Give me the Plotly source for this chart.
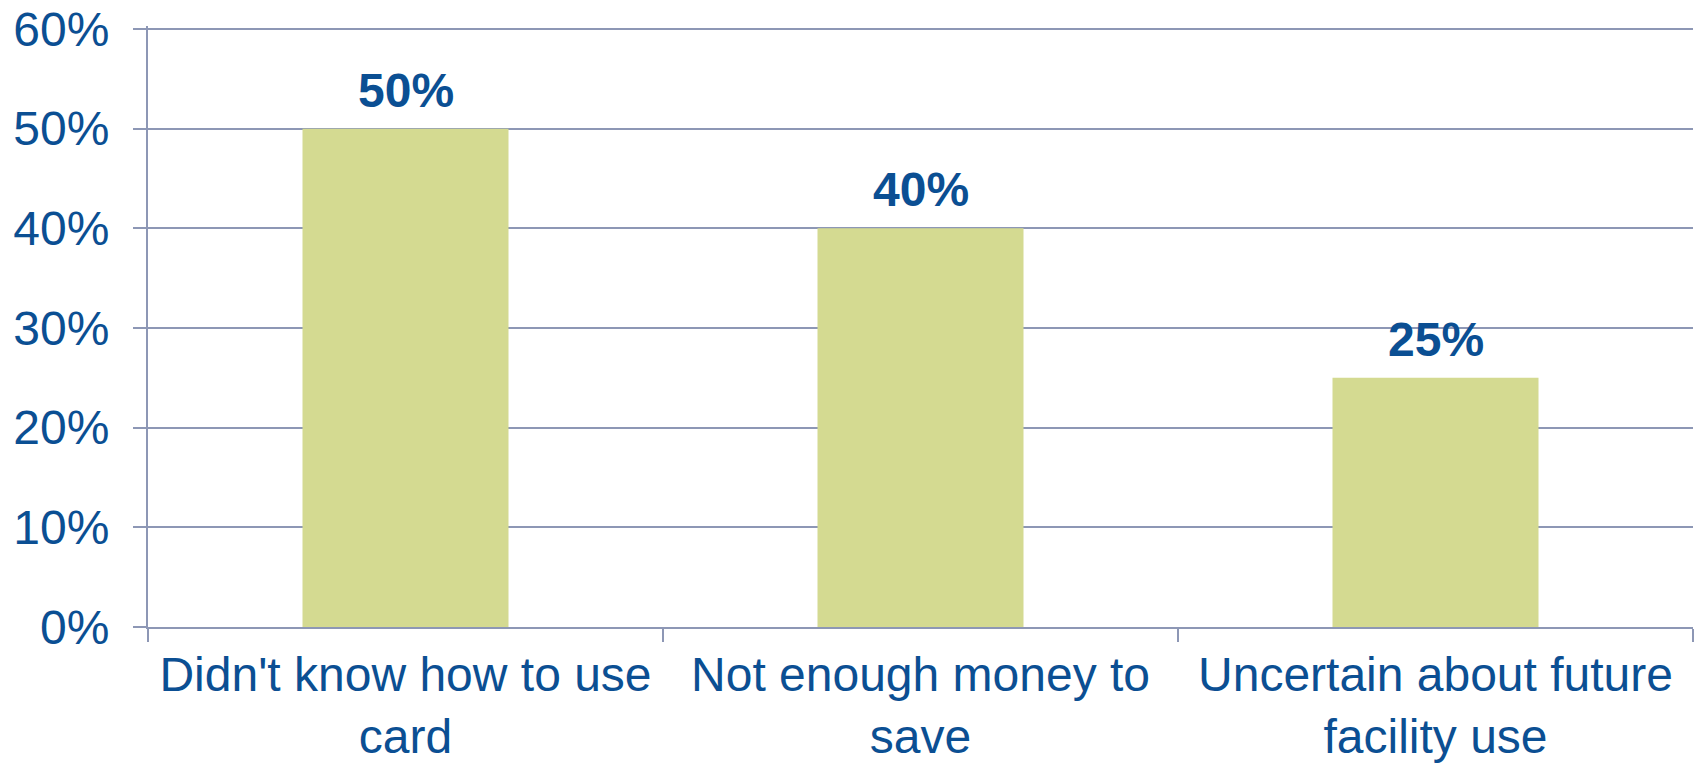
import plotly.graph_objects as go

categories = ["Didn't know how to use<br>card", "Not enough money to<br>save", "Uncertain about future<br>facility use"]
values = [0.50, 0.40, 0.25]
y_ticks = [0, 0.1, 0.2, 0.3, 0.4, 0.5, 0.6]
y_tick_labels = ["0%", "10%", "20%", "30%", "40%", "50%", "60%"]

BLUE = "#0B4F93"
GRID = "#8D97B5"
FONT = "Arial, Liberation Sans, sans-serif"

fig = go.Figure()
fig.add_trace(go.Bar(
    x=categories, y=values, width=0.4,
    marker=dict(color="#D4DA91", line=dict(width=0)),
    hoverinfo="skip",
))
for c, v in zip(categories, values):
    fig.add_annotation(x=c, y=v, text=f"<b>{round(v*100)}%</b>", showarrow=False,
                       yanchor="bottom", yshift=10,
                       font=dict(family=FONT, size=48, color=BLUE))

fig.update_layout(
    width=1696, height=764,
    margin=dict(l=148, r=3, t=26, b=137, autoexpand=False),
    paper_bgcolor="white", plot_bgcolor="white",
    showlegend=False,
    font=dict(family=FONT, color=BLUE, size=48),
)
fig.update_xaxes(
    type="category", tickson="boundaries", ticks="outside", ticklen=13, tickwidth=2,
    tickcolor=GRID, showline=True, linecolor=GRID, linewidth=2, showgrid=False,
    tickfont=dict(family=FONT, size=48, color=BLUE), ticklabelstandoff=4,
)
fig.update_yaxes(
    range=[0, 0.603], tickvals=y_ticks, ticktext=y_tick_labels,
    ticks="outside", ticklen=13, tickwidth=2, tickcolor=GRID,
    showline=True, linecolor=GRID, linewidth=2,
    showgrid=True, gridcolor=GRID, gridwidth=2, zeroline=False,
    tickfont=dict(family=FONT, size=48, color=BLUE), ticklabelstandoff=14,
)
fig.write_html("out.html", config={"displayModeBar": False},
               post_script="document.body.style.margin='0';")
